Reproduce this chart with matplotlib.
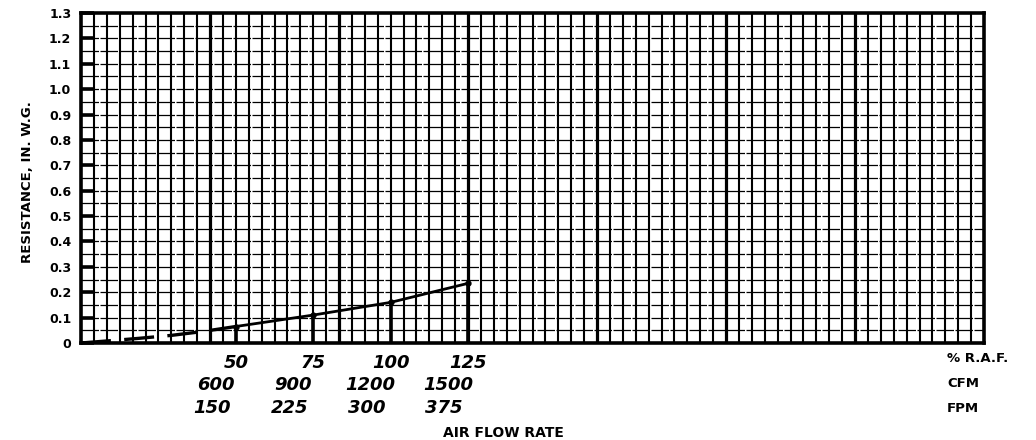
import numpy as np
import matplotlib.pyplot as plt

# data
pct_raf = ['50', '75', '100', '125']
cfm_labels = ['600', '900', '1200', '1500']
fpm_labels = ['150', '225', '300', '375']
cfm = [600, 900, 1200, 1500]
resistance = [0.065, 0.11, 0.16, 0.235]

# dashed low-flow part of the curve
low_cfm = [0, 100, 220, 350, 470, 600]
low_res = [0.0, 0.008, 0.018, 0.03, 0.045, 0.065]

y_ticks = [0, 0.1, 0.2, 0.3, 0.4, 0.5, 0.6, 0.7, 0.8, 0.9, 1.0, 1.1, 1.2, 1.3]
y_ticklabels = ['0', '0.1', '0.2', '0.3', '0.4', '0.5', '0.6', '0.7', '0.8',
                '0.9', '1.0', '1.1', '1.2', '1.3']

plt.rcParams['font.family'] = ['DejaVu Sans']

W, H = 1036, 440
fig = plt.figure(figsize=(W / 100, H / 100), dpi=100)
ax = fig.add_axes([81 / W, 1 - 343 / H, 903 / W, 330 / H])

x_max = 3500
ax.set_xlim(0, x_max)
ax.set_ylim(0, 1.3)

# graph paper
for x in np.arange(50, x_max, 50):
    lw = 2.3 if x % 500 == 0 else 1.5
    ax.axvline(x, color='black', lw=lw, zorder=1)
for y in np.arange(0.05, 1.3, 0.05):
    ax.axhline(y, color='black', lw=0.9, dashes=(14, 1.2), zorder=1)

for s in ax.spines.values():
    s.set_linewidth(2.6)

ax.set_xticks([])
ax.set_yticks(y_ticks)
ax.set_yticklabels(y_ticklabels, fontsize=9, fontweight='bold')
ax.tick_params(axis='y', direction='in', length=9, width=2.6, pad=7)

# curve
ax.plot(low_cfm, low_res, color='black', lw=2.4, dashes=(9, 4), zorder=3)
ax.plot(cfm, resistance, color='black', lw=2.0, marker='o', ms=3.5, zorder=3)
ax.vlines(cfm, 0, resistance, color='black', lw=2.6, zorder=2)

# hand written flow values under the graph
rows = [(pct_raf, 0, -20), (cfm_labels, -20, -42), (fpm_labels, -24, -65)]
for labels, dx, dy in rows:
    for x, lab in zip(cfm, labels):
        ax.annotate(lab, xy=(x, 0), xycoords=('data', 'axes fraction'),
                    xytext=(dx * 0.72, dy * 0.72), textcoords='offset points',
                    ha='center', va='center', fontsize=13, fontstyle='italic',
                    fontweight='bold', annotation_clip=False)

for txt, y in [('% R.A.F.', 358), ('CFM', 383), ('FPM', 408)]:
    fig.text(947 / W, 1 - y / H, txt, ha='left', va='center',
             fontsize=9.5, fontweight='bold')

fig.text(443 / W, 1 - 433 / H, 'AIR FLOW RATE', ha='left', va='center',
         fontsize=10, fontweight='bold')
fig.text(28 / W, 1 - 182 / H, 'RESISTANCE, IN. W.G.', rotation=90,
         ha='center', va='center', fontsize=9.5, fontweight='bold')

fig.savefig('out.png', dpi=100)
